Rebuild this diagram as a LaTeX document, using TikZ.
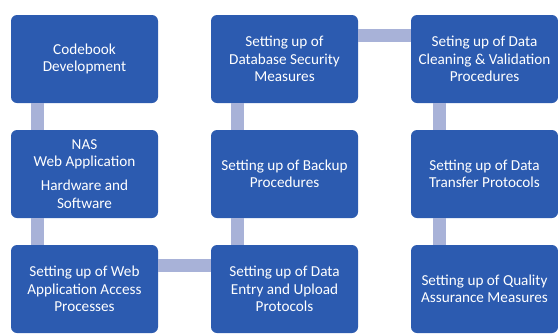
\documentclass[tikz,border=0pt]{standalone}
\usepackage{fontspec}
\setmainfont{Carlito}
\usetikzlibrary{positioning,calc}
\definecolor{boxblue}{HTML}{2C5BB0}
\definecolor{linkgray}{HTML}{A8B2D8}

\begin{document}
\begin{tikzpicture} [x=0.75pt, y=-0.75pt, node distance = 86.25pt and 150pt, on grid,
        task/.style = {rectangle, rounded corners=4.5pt, fill=boxblue, text=white,
                       minimum width=110.25pt, minimum height=66pt, align=center,
                       font=\fontsize{11.4}{13}\selectfont},
        link/.style = {color=linkgray, line width=10pt}]
        \useasboundingbox (0,0) rectangle (558,333);

        \node (code) [task] at (84.5,59) {Codebook\\Development};
        \node (nas) [task, below = of code] {NAS\\Web Application\\[5pt]Hardware and\\Software};
        \node (web) [task, below = of nas] {Setting up of Web\\Application Access\\Processes};
        \node (entry) [task, right = of web] {Setting up of Data\\Entry and Upload\\Protocols};
        \node (backup) [task, above = of entry] {Setting up of Backup\\Procedures};
        \node (secure) [task, above = of backup] {Setting up of\\Database Security\\Measures};
        \node (clean) [task, right = of secure] {Seting up of Data\\Cleaning \& Validation\\Procedures};
        \node (transfer) [task, below = of clean] {Setting up of Data\\Transfer Protocols};
        \node (quality) [task, below = of transfer] {Setting up of Quality\\Assurance Measures};

        \path [link]
          ($(code.south west)+(27,0)$) edge ($(nas.north west)+(27,0)$)
          ($(nas.south west)+(27,0)$) edge ($(web.north west)+(27,0)$)
          ($(web.north east)+(0,21)$) edge ($(entry.north west)+(0,21)$)

          ($(entry.north west)+(27,0)$) edge ($(backup.south west)+(27,0)$)
          ($(backup.north west)+(27,0)$) edge ($(secure.south west)+(27,0)$)
          ($(secure.north east)+(0,21)$) edge ($(clean.north west)+(0,21)$)

          ($(clean.south west)+(29,0)$) edge ($(transfer.north west)+(29,0)$)
          ($(transfer.south west)+(29,0)$) edge ($(quality.north west)+(29,0)$);
    \end{tikzpicture}
\end{document}
